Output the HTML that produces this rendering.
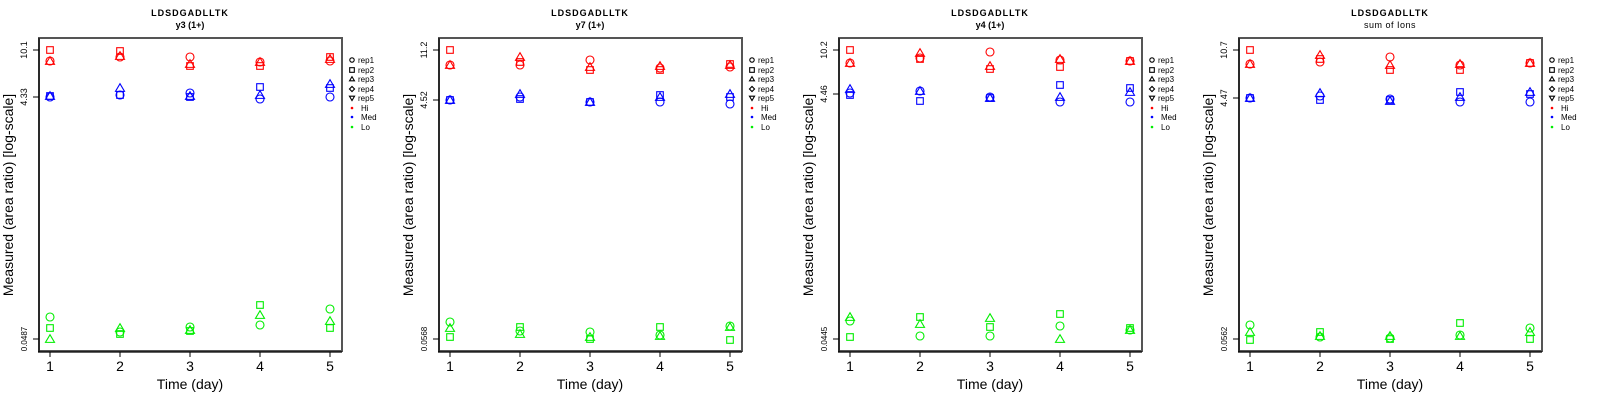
<!DOCTYPE html>
<html><head><meta charset="utf-8"><style>
html,body{margin:0;padding:0;background:#fff}
svg{display:block;font-family:"Liberation Sans",sans-serif}
</style></head><body>
<svg id="s" width="1600" height="400" xmlns="http://www.w3.org/2000/svg">
<g id="p0">
<text x="190" y="16" font-size="9" font-weight="bold" text-anchor="middle" letter-spacing="1">LDSDGADLLTK</text>
<text x="190" y="28" font-size="9" font-weight="bold" text-anchor="middle">y3 (1+)</text>
<text transform="translate(27,50) rotate(-90)" font-size="9" text-anchor="middle">10.1</text>
<text transform="translate(27,97) rotate(-90)" font-size="9" text-anchor="middle">4.33</text>
<text transform="translate(27,339) rotate(-90)" font-size="8" text-anchor="middle">0.0487</text>
</g>
<g id="p1" transform="translate(400,0)">
<text x="190" y="16" font-size="9" font-weight="bold" text-anchor="middle" letter-spacing="1">LDSDGADLLTK</text>
<text x="190" y="28" font-size="9" font-weight="bold" text-anchor="middle">y7 (1+)</text>
<text transform="translate(27,50) rotate(-90)" font-size="9" text-anchor="middle">11.2</text>
<text transform="translate(27,100) rotate(-90)" font-size="9" text-anchor="middle">4.52</text>
<text transform="translate(27,339) rotate(-90)" font-size="8" text-anchor="middle">0.0568</text>
</g>
<g id="p2" transform="translate(800,0)">
<text x="190" y="16" font-size="9" font-weight="bold" text-anchor="middle" letter-spacing="1">LDSDGADLLTK</text>
<text x="190" y="28" font-size="9" font-weight="bold" text-anchor="middle">y4 (1+)</text>
<text transform="translate(27,50) rotate(-90)" font-size="9" text-anchor="middle">10.2</text>
<text transform="translate(27,94) rotate(-90)" font-size="9" text-anchor="middle">4.46</text>
<text transform="translate(27,339) rotate(-90)" font-size="8" text-anchor="middle">0.0445</text>
</g>
<g id="p3" transform="translate(1200,0)">
<text x="190" y="16" font-size="9" font-weight="bold" text-anchor="middle" letter-spacing="1">LDSDGADLLTK</text>
<text x="190" y="28" font-size="9" text-anchor="middle" letter-spacing="0.5">sum of Ions</text>
<text transform="translate(27,50) rotate(-90)" font-size="9" text-anchor="middle">10.7</text>
<text transform="translate(27,98) rotate(-90)" font-size="9" text-anchor="middle">4.47</text>
<text transform="translate(27,339) rotate(-90)" font-size="8" text-anchor="middle">0.0562</text>
</g>
<g id="common">
<g><text transform="translate(13,195) rotate(-90)" font-size="14" text-anchor="middle">Measured (area ratio) [log-scale]</text><text x="190" y="389" font-size="14" text-anchor="middle">Time (day)</text><text x="50" y="371" font-size="14" text-anchor="middle">1</text><text x="120" y="371" font-size="14" text-anchor="middle">2</text><text x="190" y="371" font-size="14" text-anchor="middle">3</text><text x="260" y="371" font-size="14" text-anchor="middle">4</text><text x="330" y="371" font-size="14" text-anchor="middle">5</text><text x="358" y="63" font-size="8">rep1</text><text x="358" y="73" font-size="8">rep2</text><text x="358" y="82" font-size="8">rep3</text><text x="358" y="92" font-size="8">rep4</text><text x="358" y="101" font-size="8">rep5</text><text x="361" y="111" font-size="8">Hi</text><text x="361" y="120" font-size="8">Med</text><text x="361" y="130" font-size="8">Lo</text></g>
<g transform="translate(400,0)"><text transform="translate(13,195) rotate(-90)" font-size="14" text-anchor="middle">Measured (area ratio) [log-scale]</text><text x="190" y="389" font-size="14" text-anchor="middle">Time (day)</text><text x="50" y="371" font-size="14" text-anchor="middle">1</text><text x="120" y="371" font-size="14" text-anchor="middle">2</text><text x="190" y="371" font-size="14" text-anchor="middle">3</text><text x="260" y="371" font-size="14" text-anchor="middle">4</text><text x="330" y="371" font-size="14" text-anchor="middle">5</text><text x="358" y="63" font-size="8">rep1</text><text x="358" y="73" font-size="8">rep2</text><text x="358" y="82" font-size="8">rep3</text><text x="358" y="92" font-size="8">rep4</text><text x="358" y="101" font-size="8">rep5</text><text x="361" y="111" font-size="8">Hi</text><text x="361" y="120" font-size="8">Med</text><text x="361" y="130" font-size="8">Lo</text></g>
<g transform="translate(800,0)"><text transform="translate(13,195) rotate(-90)" font-size="14" text-anchor="middle">Measured (area ratio) [log-scale]</text><text x="190" y="389" font-size="14" text-anchor="middle">Time (day)</text><text x="50" y="371" font-size="14" text-anchor="middle">1</text><text x="120" y="371" font-size="14" text-anchor="middle">2</text><text x="190" y="371" font-size="14" text-anchor="middle">3</text><text x="260" y="371" font-size="14" text-anchor="middle">4</text><text x="330" y="371" font-size="14" text-anchor="middle">5</text><text x="358" y="63" font-size="8">rep1</text><text x="358" y="73" font-size="8">rep2</text><text x="358" y="82" font-size="8">rep3</text><text x="358" y="92" font-size="8">rep4</text><text x="358" y="101" font-size="8">rep5</text><text x="361" y="111" font-size="8">Hi</text><text x="361" y="120" font-size="8">Med</text><text x="361" y="130" font-size="8">Lo</text></g>
<g transform="translate(1200,0)"><text transform="translate(13,195) rotate(-90)" font-size="14" text-anchor="middle">Measured (area ratio) [log-scale]</text><text x="190" y="389" font-size="14" text-anchor="middle">Time (day)</text><text x="50" y="371" font-size="14" text-anchor="middle">1</text><text x="120" y="371" font-size="14" text-anchor="middle">2</text><text x="190" y="371" font-size="14" text-anchor="middle">3</text><text x="260" y="371" font-size="14" text-anchor="middle">4</text><text x="330" y="371" font-size="14" text-anchor="middle">5</text><text x="358" y="63" font-size="8">rep1</text><text x="358" y="73" font-size="8">rep2</text><text x="358" y="82" font-size="8">rep3</text><text x="358" y="92" font-size="8">rep4</text><text x="358" y="101" font-size="8">rep5</text><text x="361" y="111" font-size="8">Hi</text><text x="361" y="120" font-size="8">Med</text><text x="361" y="130" font-size="8">Lo</text></g>
</g>
</svg>
<script>
var NS="http://www.w3.org/2000/svg",s=document.getElementById("s");
function el(t,a){var e=document.createElementNS(NS,t);for(var k in a)e.setAttribute(k,a[k]);s.appendChild(e);return e;}
function mk(type,x,y,c,sz){sz=sz||1;var st={fill:"none",stroke:c,"stroke-width":1.1};
 if(type=="c"){st.cx=x;st.cy=y;st.r=4*sz;el("circle",st);}
 else if(type=="s"){var h=3.3*sz;st.x=x-h;st.y=y-h;st.width=2*h;st.height=2*h;el("rect",st);}
 else if(type=="t"){var h=4.5*sz;st.points=(x-h)+","+(y+h*0.75)+" "+(x+h)+","+(y+h*0.75)+" "+x+","+(y-h*0.95);el("polygon",st);}
 else if(type=="d"){var h=3*sz;st.points=x+","+(y-h)+" "+(x+h)+","+y+" "+x+","+(y+h)+" "+(x-h)+","+y;el("polygon",st);}
 else if(type=="v"){var h=3*sz;st.points=(x-h)+","+(y-h*0.7)+" "+(x+h)+","+(y-h*0.7)+" "+x+","+(y+h);el("polygon",st);}
}
var D=[
 {hi:[[61,50,61],[57,51,56],[57,66,64],[62,66,62],[61,57,59]],
  md:[[97,96,96],[95,95,88],[93,97,96],[99,87,95],[97,88,84]],
  lo:[[317,328,339],[332,334,328],[327,331,330],[325,305,315],[309,328,321]],ticks:[50,97,339]},
 {hi:[[65,50,65],[65,62,57],[60,70,67],[68,70,66],[67,64,65]],
  md:[[100,100,100],[97,99,94],[102,102,102],[102,95,97],[104,97,94]],
  lo:[[322,337,328],[331,327,334],[332,339,337],[335,327,336],[326,340,327]],ticks:[50,100,339]},
 {hi:[[63,50,63],[58,59,53],[52,69,66],[60,67,59],[61,61,61]],
  md:[[93,95,89],[91,101,91],[97,98,98],[102,85,97],[102,88,92]],
  lo:[[321,337,317],[336,317,324],[336,327,318],[326,314,339],[330,328,330]],ticks:[50,94,339]},
 {hi:[[64,50,64],[62,59,55],[57,70,65],[65,70,64],[63,63,63]],
  md:[[98,98,98],[96,100,93],[99,100,101],[102,92,97],[102,94,92]],
  lo:[[325,340,332],[337,332,336],[338,339,336],[335,323,336],[328,339,332]],ticks:[50,98,339]}
];
var cols={hi:"#ff0000",md:"#0000ff",lo:"#00ee00"};
for(var p=0;p<4;p++){var o=p*400,d=D[p];
 el("rect",{x:o+39,y:38,width:303,height:313,fill:"none",stroke:"#555","stroke-width":2});
 el("line",{x1:o+39,y1:38,x2:o+39,y2:352,stroke:"#000","stroke-width":1});
 el("line",{x1:o+38,y1:352,x2:o+342,y2:352,stroke:"#000","stroke-width":1.2});
 for(var i=0;i<5;i++){var x=o+50+70*i;el("line",{x1:x,y1:352,x2:x,y2:357,stroke:"#000"});}
 d.ticks.forEach(function(y){el("line",{x1:o+33,y1:y,x2:o+39,y2:y,stroke:"#000"});});
 ["hi","md","lo"].forEach(function(g){for(var i=0;i<5;i++){var x=o+50+70*i,v=d[g][i];
  mk("t",x,v[2],cols[g]);mk("s",x,v[1],cols[g]);mk("c",x,v[0],cols[g]);}});
 var lx=o+352;
 mk("c",lx,60,"#000",0.55);mk("s",lx,70,"#000",0.7);mk("t",lx,79,"#000",0.55);mk("d",lx,89,"#000",0.85);mk("v",lx,98,"#000",0.85);
 el("circle",{cx:lx,cy:108,r:1.3,fill:"#f00"});el("circle",{cx:lx,cy:117,r:1.3,fill:"#00f"});el("circle",{cx:lx,cy:127,r:1.3,fill:"#0e0"});
}
</script>
</body></html>
